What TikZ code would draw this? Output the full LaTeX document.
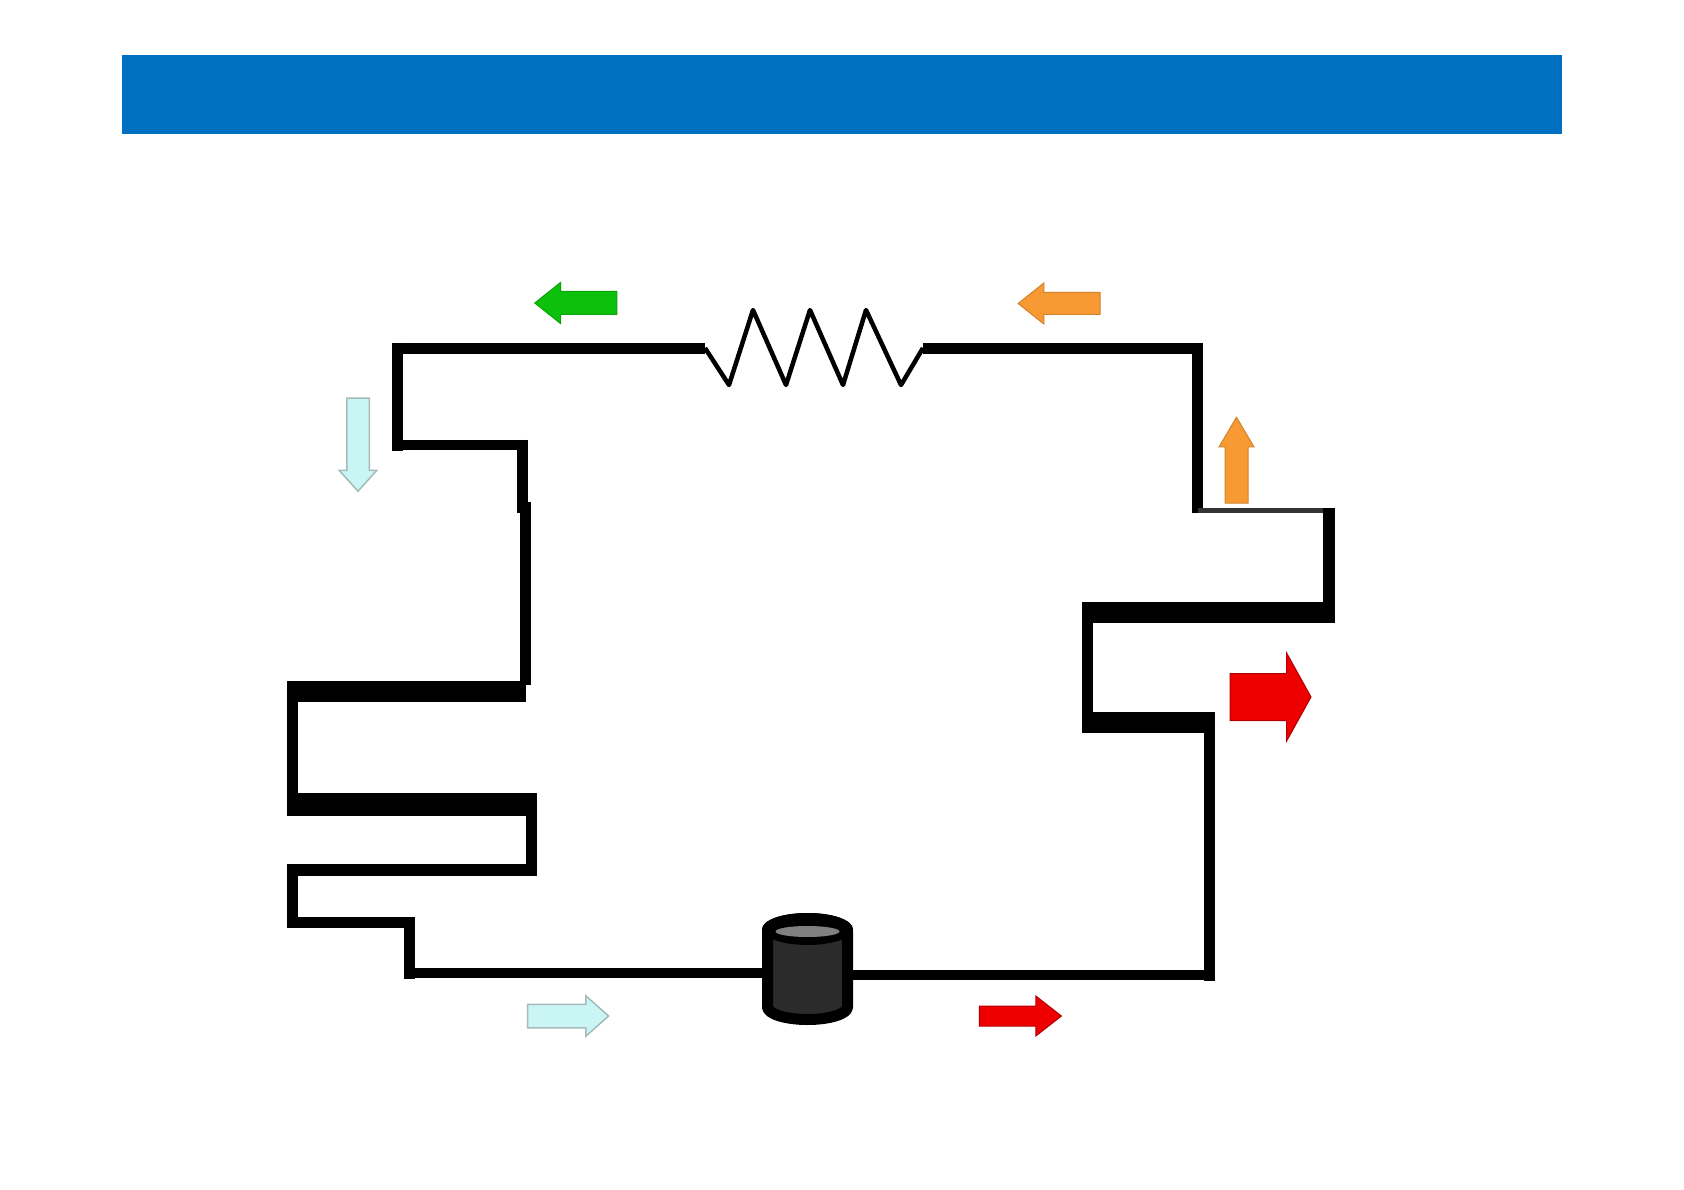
\documentclass[tikz,border=0pt]{standalone}
\usepackage{tikz}
\usetikzlibrary{shapes.geometric,shapes.arrows}
\definecolor{bannerblue}{HTML}{0070C0}
\definecolor{flowgreen}{HTML}{0CC00C}
\definecolor{floworange}{HTML}{F79A33}
\definecolor{flowred}{HTML}{EE0000}
\definecolor{flowcyan}{HTML}{C9F6F5}
\tikzset{pipe/.style={line width=11pt, shorten <=-5.5pt, shorten >=-5.5pt},
	wide_pipe/.style={pipe, line width=21pt},
	coil/.style={line width=4.5pt, line join=round},
	flow/.style={single arrow, inner xsep=0pt, outer sep=0pt, line width=1pt}
}
\tikzstyle{green_flow} = [flow, draw=flowgreen!85!black, fill=flowgreen, inner ysep=11pt, minimum height=82pt, minimum width=40pt, single arrow head extend=9pt, single arrow tip angle=77]
\tikzstyle{orange_flow} = [flow, draw=floworange!85!black, fill=floworange]
\tikzstyle{red_flow} = [flow, draw=flowred!75!black, fill=flowred]
\tikzstyle{cyan_flow} = [flow, draw=flowcyan!50!gray, fill=flowcyan, line width=1.5pt]
\begin{document}
\begin{tikzpicture}[x=1pt, y=-1pt, node distance=10pt]
	\path[use as bounding box] (0,0) rectangle (1684,1190);
	\node[fill=bannerblue, minimum width=1440pt, minimum height=79pt, inner sep=0pt, outer sep=0pt] (banner) at (842,94.5) {};

	% corners, going round the loop
	\coordinate (topL) at (397.5,348);
	\coordinate[below of=topL, yshift=-87pt] (leftA);
	\coordinate[right of=leftA, xshift=114.5pt] (leftB);
	\coordinate[below of=leftB, yshift=-52pt] (leftC);
	\coordinate[right of=leftC, xshift=-6.5pt] (leftD);
	\coordinate[below of=leftD, yshift=-174pt] (barA);
	\coordinate[left of=barA, xshift=-223.5pt] (barB);
	\coordinate[below of=barB, yshift=-103pt] (barC);
	\coordinate[right of=barC, xshift=229pt] (barD);
	\coordinate[below of=barD, yshift=-55.5pt] (barE);
	\coordinate[left of=barE, xshift=-229pt] (barF);
	\coordinate[below of=barF, yshift=-42.5pt] (barG);
	\coordinate[right of=barG, xshift=107.5pt] (barH);
	\coordinate[below of=barH, yshift=-41pt] (barI);
	\coordinate[right of=topL, xshift=297.5pt] (zigL);
	\coordinate[right of=zigL, xshift=208pt] (zigR);
	\coordinate[right of=zigR, xshift=264.5pt] (topR);
	\coordinate[below of=topR, yshift=-152pt] (midR);
	\coordinate[right of=midR, xshift=121.5pt] (outR);
	\coordinate[below of=outR, yshift=-92pt] (fwdA);
	\coordinate[left of=fwdA, xshift=-231.5pt] (fwdB);
	\coordinate[below of=fwdB, yshift=-100pt] (fwdC);
	\coordinate[right of=fwdC, xshift=112pt] (fwdD);
	\coordinate[below of=fwdD, yshift=-243pt] (botR);

	% draw lines
	\draw[pipe, shorten >=0pt] (topL) -- (zigL);
	\draw[pipe, shorten <=0pt] (zigR) -- (topR);
	\draw[coil] (zigL) -- ++(24,37) -- ++(24,-75) -- ++(33,75) -- ++(24,-75) -- ++(33,75) -- ++(23,-75) -- ++(35,75) -- (zigR);
	\draw[pipe] (topL) -- (leftA);
	\draw[pipe, line width=10pt] (leftA) -- (leftB);
	\draw[pipe] (leftB) -- (leftC);
	\draw[pipe, shorten >=6pt] (leftD) -- (barA);
	\draw[wide_pipe, shorten <=0pt] (barA) -- (barB);
	\draw[pipe] (barB) -- (barC);
	\draw[wide_pipe, line width=23pt] (barC) -- (barD);
	\draw[pipe] (barD) -- (barE);
	\draw[pipe, line width=12pt] (barE) -- (barF);
	\draw[pipe] (barF) -- (barG);
	\draw[pipe] (barG) -- (barH);
	\draw[pipe] (barH) -- (barI);
	\draw[pipe, shorten >=-2.5pt] (topR) -- (midR);
	\draw[pipe, line width=5pt, shorten <=0pt, shorten >=0pt, draw=black!80] (midR) -- (outR);
	\draw[pipe, line width=12pt, shorten <=-2pt] (outR) -- (fwdA);
	\draw[wide_pipe] (fwdA) -- (fwdB);
	\draw[pipe] (fwdB) -- (fwdC);
	\draw[wide_pipe] (fwdC) -- (fwdD);
	\draw[pipe] (fwdD) -- (botR);

	% compressor
	\coordinate (comp) at (807.5,969);
	\draw[pipe, line width=10pt] (barI) -- (barI -| comp);
	\draw[pipe, line width=10pt] (botR) -- (botR -| comp);
	\draw[line width=11pt, line join=round, fill=black!83] ([shift={(-40,-38)}]comp) arc[start angle=180, end angle=0, x radius=40pt, y radius=12.5pt] -- ([shift={(40,38)}]comp) arc[start angle=0, end angle=-180, x radius=40pt, y radius=12.5pt] -- cycle;
	\node[ellipse, above of=comp, yshift=30pt, fill=black, minimum width=91pt, minimum height=32pt, inner sep=0pt] (rim) {};
	\node[ellipse, above of=comp, yshift=27.5pt, fill=black!50, minimum width=64pt, minimum height=11pt, inner sep=0pt] (lid) {};

	% flow arrows
	\node[green_flow, above of=topL, xshift=185.5pt, yshift=35pt, rotate=180] (flowA) {};
	\node[cyan_flow, below of=topL, xshift=-39.5pt, yshift=-80.5pt, rotate=-90, inner ysep=10.5pt, minimum height=93pt, minimum width=36pt, single arrow head extend=7.5pt, single arrow tip angle=84] (flowB) {};
	\node[orange_flow, above of=topR, xshift=-131.5pt, yshift=34.5pt, rotate=180, inner ysep=10.5pt, minimum height=82pt, minimum width=40pt, single arrow head extend=9.5pt, single arrow tip angle=77] (flowC) {};
	\node[orange_flow, above of=midR, xshift=39pt, yshift=30pt, rotate=90, inner ysep=11pt, minimum height=86pt, minimum width=34pt, single arrow head extend=6pt, single arrow tip angle=61] (flowD) {};
	\node[red_flow, above of=fwdC, xshift=176.5pt, yshift=15pt, inner ysep=23pt, minimum height=81pt, minimum width=87pt, single arrow head extend=20.5pt, single arrow tip angle=122] (flowE) {};
	\node[cyan_flow, below of=barI, xshift=152pt, yshift=-33pt, inner ysep=11pt, minimum height=81pt, minimum width=39pt, single arrow head extend=8.5pt, single arrow tip angle=83] (flowF) {};
	\node[red_flow, below of=botR, xshift=-195.5pt, yshift=-31pt, inner ysep=9.5pt, minimum height=82pt, minimum width=39pt, single arrow head extend=10pt, single arrow tip angle=76] (flowG) {};
\end{tikzpicture}
\end{document}
